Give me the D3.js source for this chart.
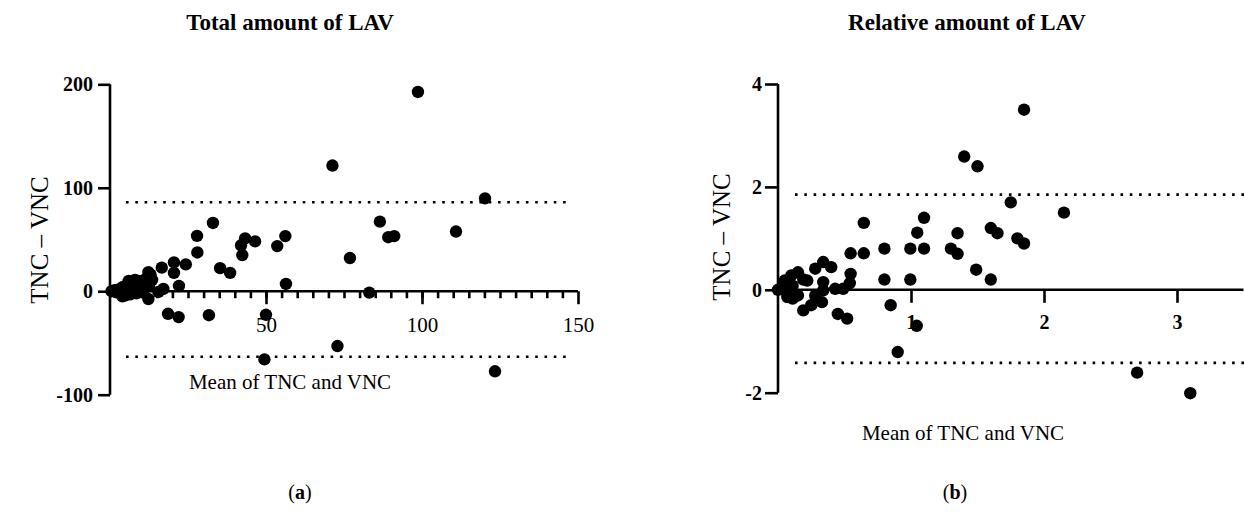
<!DOCTYPE html>
<html>
<head>
<meta charset="utf-8">
<script src="https://cdn.jsdelivr.net/npm/d3@7"></script>
<style>
  body { margin: 0; background: #fff; }
  svg text { font-family: "Liberation Serif", "DejaVu Serif", serif; fill: #000; }
</style>
</head>
<body>
<div id="chart"></div>
<script>
// Panel (a): total amount of LAV  [mean, difference]
const totalPoints = [
  [0.5, 0], [1.5, 1], [2, -1], [3, 2], [3.5, -2], [4, 4], [4.5, 0], [5, -4], [5.5, 6], [6, 2],
  [6.5, -3], [7, 8], [7.5, 4], [8, 0], [8.5, -2], [9, 10], [9.5, 6], [10, 3], [10.5, -1], [11, 11],
  [11.5, 8], [12, 13], [12.5, 5], [13, 16], [13.5, 11], [6, 10], [8, 11], [4, -5], [10, 9], [5, 5],
  [12.3, 18.5], [12.3, -7.5], [15.5, -0.7], [17.1, 2.2], [16.6, 22.8], [20.5, 27.8], [20.5, 17.7],
  [22.1, 5.1], [24.3, 26], [18.6, -21.8], [22, -25], [27.9, 53.5], [28, 37.5], [33, 66], [35.3, 22.3],
  [38.5, 17.7], [31.7, -23.2], [43.3, 51], [42, 44.4], [42.4, 35], [46.5, 48.2], [53.6, 43.6],
  [56.2, 53.3], [56.4, 7], [50, -22.8], [49.5, -65.9], [71.3, 121.5], [72.9, -53], [76.9, 32.1],
  [83.1, -1.3], [86.5, 67.3], [89.2, 52.2], [91.1, 53.3], [98.7, 192.6], [110.9, 57.7],
  [120.2, 89.7], [123.4, -77.4]
];
const totalLoa = [86, -63.3];
const totalXTicks = [50, 100, 150];
const totalXMinor = d3.range(5, 150, 5);
const totalYTicks = [-100, 0, 100, 200];

// Panel (b): relative amount of LAV
const relPoints = [
  [0, 0], [0.04, 0.05], [0.05, 0.18], [0.10, 0.28], [0.15, 0.34], [0.11, 0.08], [0.07, -0.01],
  [0.07, -0.14], [0.15, -0.11], [0.11, -0.17], [0.19, -0.40], [0.25, -0.30], [0.22, 0.18],
  [0.28, 0.41], [0.34, 0.54], [0.40, 0.44], [0.34, 0.15], [0.34, -0.01], [0.33, -0.24],
  [0.28, -0.11], [0.43, 0.02], [0.49, 0.02], [0.45, -0.47], [0.52, -0.56], [0.19, 0.2],
  [0.546, 0.71], [0.645, 0.71], [0.645, 1.30], [0.546, 0.31], [0.54, 0.13], [0.80, 0.80],
  [0.80, 0.20], [0.847, -0.30], [0.90, -1.21], [0.995, 0.80], [1.047, 1.11], [1.098, 1.40],
  [1.098, 0.80], [0.995, 0.20], [1.043, -0.70], [1.30, 0.80], [1.35, 1.10], [1.35, 0.70],
  [1.49, 0.39], [1.60, 0.20], [1.85, 3.50], [1.40, 2.59], [1.50, 2.40], [1.75, 1.70],
  [2.15, 1.50], [1.60, 1.20], [1.65, 1.10], [1.80, 1.00], [1.85, 0.90], [2.70, -1.61], [3.10, -2.01]
];
const relLoa = [1.85, -1.42];
const relXTicks = [1, 2, 3];
const relYTicks = [-2, 0, 2, 4];

const width = 1244, height = 519;
const svg = d3.select("#chart").append("svg")
  .attr("width", width)
  .attr("height", height);

function drawPanel(opt) {
  const g = svg.append("g");
  const x = d3.scaleLinear().domain(opt.xDomain).range(opt.xRange);
  const y = d3.scaleLinear().domain(opt.yDomain).range(opt.yRange);

  // limits of agreement (dotted)
  g.selectAll("line.loa")
    .data(opt.loa)
    .enter()
    .append("line")
    .attr("x1", opt.loaX[0])
    .attr("x2", opt.loaX[1])
    .attr("y1", d => y(d))
    .attr("y2", d => y(d))
    .attr("stroke", "#000")
    .attr("stroke-width", 2.6)
    .attr("stroke-dasharray", "2.6,6.7");

  // y axis
  const yAxis = g.append("g")
    .attr("transform", `translate(${x(0)},0)`)
    .call(d3.axisLeft(y).tickValues(opt.yTicks).tickSize(opt.yTickSize).tickPadding(opt.yPad)
      .tickFormat(d => d));
  yAxis.select(".domain").attr("stroke-width", 2.6).attr("d", `M0,${y(opt.yDomain[1])}V${y(opt.yDomain[0])}`);
  yAxis.selectAll(".tick line").attr("stroke-width", 2.6);
  yAxis.selectAll("text")
    .attr("font-size", opt.yFont)
    .attr("font-weight", "bold")
    .attr("font-family", "Liberation Serif");

  // x axis at y = 0
  if (opt.xMinor) {
    const minor = g.append("g")
      .attr("transform", `translate(0,${y(0)})`)
      .call(d3.axisBottom(x).tickValues(opt.xMinor).tickSize(7).tickFormat(""));
    minor.select(".domain").remove();
    minor.selectAll(".tick line").attr("stroke-width", 2.6);
  }
  const xAxis = g.append("g")
    .attr("transform", `translate(0,${y(0)})`)
    .call(d3.axisBottom(x).tickValues(opt.xTicks).tickSize(13).tickPadding(opt.xPad)
      .tickFormat(d => d));
  xAxis.select(".domain").attr("stroke-width", 2.6).attr("d", `M${x(0)},0H${opt.xRange[1]}`);
  xAxis.selectAll(".tick line").attr("stroke-width", 2.6);
  xAxis.selectAll("text")
    .attr("font-size", opt.xFont)
    .attr("font-weight", opt.xBold ? "bold" : "normal")
    .attr("font-family", "Liberation Serif");

  // points
  g.selectAll("circle")
    .data(opt.points)
    .enter()
    .append("circle")
    .attr("cx", d => x(d[0]))
    .attr("cy", d => y(d[1]))
    .attr("r", 6.2)
    .attr("fill", "#000");

  // titles
  g.append("text")
    .attr("x", opt.titleX)
    .attr("y", 30)
    .attr("text-anchor", "middle")
    .attr("font-size", 23)
    .attr("font-weight", "bold")
    .text(opt.title);

  g.append("text")
    .attr("transform", `translate(${opt.yLabelX},${opt.yLabelY}) rotate(-90)`)
    .attr("text-anchor", "middle")
    .attr("font-size", 25)
    .text("TNC – VNC");

  g.append("text")
    .attr("x", opt.xLabelX)
    .attr("y", opt.xLabelY)
    .attr("text-anchor", "middle")
    .attr("font-size", 21)
    .text("Mean of TNC and VNC");

  const tag = g.append("text")
    .attr("x", opt.tagX)
    .attr("y", 499)
    .attr("text-anchor", "middle")
    .attr("font-size", 20);
  tag.append("tspan").text("(");
  tag.append("tspan").attr("font-weight", "bold").text(opt.tag);
  tag.append("tspan").text(")");
}

drawPanel({
  points: totalPoints, loa: totalLoa,
  xDomain: [0, 150], xRange: [110, 578],
  yDomain: [-100, 200], yRange: [394.7, 84.3],
  xTicks: totalXTicks, xMinor: totalXMinor, yTicks: totalYTicks,
  loaX: [126, 572],
  yTickSize: 12, yPad: 5, yFont: 20,
  xPad: 13, xFont: 21, xBold: false,
  title: "Total amount of LAV", titleX: 290,
  yLabelX: 48, yLabelY: 240,
  xLabelX: 290, xLabelY: 389,
  tag: "a", tagX: 300
});

drawPanel({
  points: relPoints, loa: relLoa,
  xDomain: [0, 3.5], xRange: [778, 1243.5],
  yDomain: [-2, 4], yRange: [392.7, 84],
  xTicks: relXTicks, xMinor: null, yTicks: relYTicks,
  loaX: [795, 1244],
  yTickSize: 13, yPad: 3, yFont: 20,
  xPad: 12, xFont: 20, xBold: true,
  title: "Relative amount of LAV", titleX: 967,
  yLabelX: 730, yLabelY: 237,
  xLabelX: 963, xLabelY: 440,
  tag: "b", tagX: 955
});
</script>
</body>
</html>
